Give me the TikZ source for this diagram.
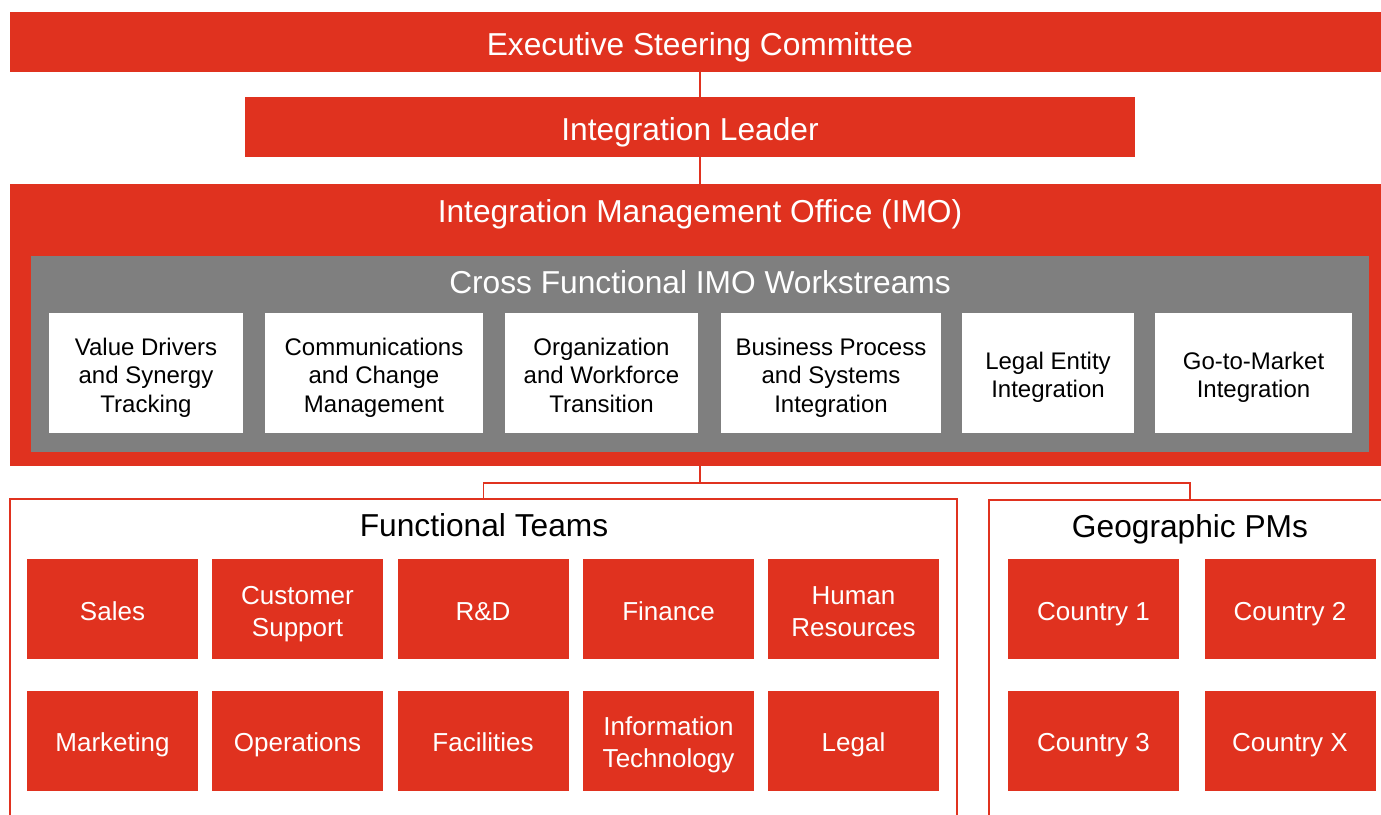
\documentclass[tikz,border=0pt]{standalone}
\usepackage{fontspec}
\setmainfont{Liberation Sans}
\usetikzlibrary{positioning}

\definecolor{imored}{HTML}{E0321F}
\definecolor{imogray}{HTML}{7F7F7F}

\begin{document}
\begin{tikzpicture}[x=1pt, y=-1pt,
  evenline/.style={execute at begin node={\rule[-0.22em]{0pt}{1.32em}}, execute at end node={\rule[-0.22em]{0pt}{0.22em}}},
  title/.style={evenline, inner sep=0pt, font=\fontsize{31.7}{38}\selectfont},
  redbar/.style={title, fill=imored, text=white},
  stream/.style={evenline, fill=white, inner sep=0pt, minimum width=#1, text width=#1, minimum height=120pt, align=flush center, font=\fontsize{24}{28.5}\selectfont},
  team/.style={evenline, fill=imored, text=white, inner sep=0pt, text width=171pt, minimum height=100pt, align=flush center, font=\fontsize{26}{32}\selectfont},
  frame/.style={draw=imored, line width=1.8pt, inner sep=0pt},
  link/.style={draw=imored, line width=1.8pt}]

\clip (0,0) rectangle (1381,814);
\fill[white] (0,0) rectangle (1381,814);

% Top of the structure
\node[redbar, minimum width=1380pt, minimum height=60pt] (exec) at (700,42) {Executive Steering Committee};
\node[redbar, minimum width=890pt, minimum height=60pt] (leader) at (690,127) {Integration Leader};

\node[fill=imored, minimum width=1380pt, minimum height=282pt] (imo) at (700,325) {};
\node[title, text=white] (imot) at (700,208.6) {Integration Management Office (IMO)};

\draw[link] (exec.south) -- (exec.south |- leader.north);
\draw[link] (leader.south -| imo.north) -- (imo.north);

% Cross functional workstreams
\node[fill=imogray, inner sep=0pt, minimum width=1338pt, minimum height=196pt] (cross) at (700,354) {};
\node[title, text=white] (crosst) at (700,279.6) {Cross Functional IMO Workstreams};

\node[stream=194pt] (ws1) at (146,373) {Value Drivers\\and Synergy\\Tracking};
\node[stream=218pt] (ws2) at (374,373) {Communications\\and Change\\Management};
\node[stream=193pt] (ws3) at (601.5,373) {Organization\\and Workforce\\Transition};
\node[stream=220pt] (ws4) at (831,373) {Business Process\\and Systems\\Integration};
\node[stream=172pt] (ws5) at (1048,373) {Legal Entity\\Integration};
\node[stream=197pt] (ws6) at (1253.5,373) {Go-to-Market\\Integration};

% Functional teams
\node[frame, minimum width=947pt, minimum height=400pt] (func) at (483.5,699) {};
\node[title] (funct) at (484,522.6) {Functional Teams};

\node[team] (sales) at (112.5,609) {Sales};
\node[team] (support) at (297.5,609) {Customer\\Support};
\node[team] (rd) at (483,609) {R\&D};
\node[team] (finance) at (668.5,609) {Finance};
\node[team] (hr) at (853.5,609) {Human\\Resources};

\node[team] (marketing) at (112.5,740.5) {Marketing};
\node[team] (ops) at (297.5,740.5) {Operations};
\node[team] (facilities) at (483,740.5) {Facilities};
\node[team] (it) at (668.5,740.5) {Information\\Technology};
\node[team] (legal) at (853.5,740.5) {Legal};

% Geographic PMs
\node[frame, minimum width=402pt, minimum height=400pt] (geo) at (1190,700) {};
\node[title] (geot) at (1190,523.6) {Geographic PMs};

\node[team] (c1) at (1093.5,609) {Country 1};
\node[team] (c2) at (1290,609) {Country 2};
\node[team] (c3) at (1093.5,740.5) {Country 3};
\node[team] (cx) at (1290,740.5) {Country X};

\draw[link] (imo.south) -- ++(0,17) -| (func.north);
\draw[link] (imo.south) -- ++(0,17) -| (geo.north);

\end{tikzpicture}
\end{document}
